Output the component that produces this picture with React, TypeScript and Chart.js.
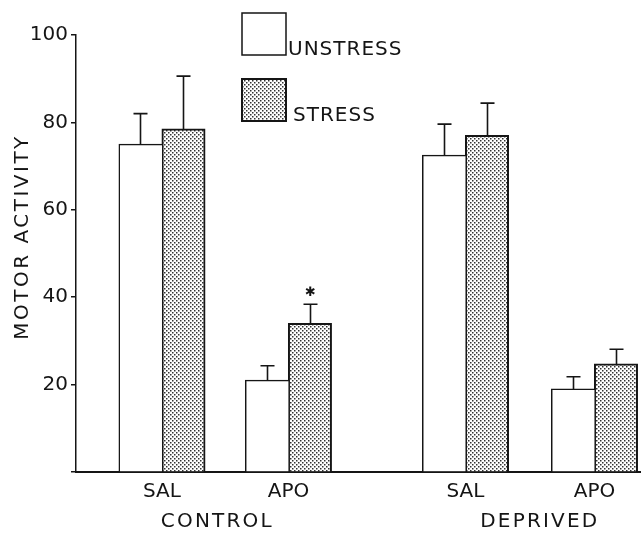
import React, { useEffect, useRef } from "react";
import { Chart, registerables } from "chart.js";

Chart.register(...registerables);

// ---- data ----
const conditions = ["SAL", "APO", "SAL", "APO"];
const groups = ["CONTROL", "DEPRIVED"];
const seriesNames = ["UNSTRESS", "STRESS"];
const unstressMean = [75, 21, 72.5, 19];
const unstressSem = [7, 3.3, 7.1, 2.8];
const stressMean = [78.5, 34, 77, 24.7];
const stressSem = [12.1, 4.4, 7.4, 3.4];
const stressSignificant = [false, true, false, false];
const yTicks = [20, 40, 60, 80, 100];
const yTitle = "MOTOR ACTIVITY";

// ---- layout (positions on the x scale, not data) ----
const X_POS = [1, 2, 3.4, 4.42];
const GROUP_LABEL_POS = [1.43, 3.98];
const X_MIN = 0.32;
const X_MAX = 4.78;

const FONT = "'DejaVu Sans', sans-serif";
const INK = "#151515";

function makePattern(): CanvasPattern | string {
  const tile = document.createElement("canvas");
  tile.width = 4;
  tile.height = 4;
  const c = tile.getContext("2d");
  if (!c) return "#ccc";
  c.fillStyle = "#ffffff";
  c.fillRect(0, 0, 4, 4);
  c.fillStyle = "#333333";
  c.fillRect(0, 0, 1.5, 1.5);
  c.fillRect(2, 2, 1.5, 1.5);
  const ctx = document.createElement("canvas").getContext("2d");
  return (ctx && ctx.createPattern(tile, "repeat")) || "#ccc";
}

export default function App() {
  const ref = useRef<HTMLCanvasElement | null>(null);

  useEffect(() => {
    if (!ref.current) return;
    const pattern = makePattern();
    const sems = [unstressSem, stressSem];

    const decorations = {
      id: "decorations",
      afterDatasetsDraw(chart: any) {
        const ctx = chart.ctx;
        const y = chart.scales.y;
        const x = chart.scales.x;
        ctx.save();
        ctx.strokeStyle = INK;
        ctx.fillStyle = INK;
        ctx.lineWidth = 1.6;
        // error bars (upper only)
        chart.data.datasets.forEach((ds: any, di: number) => {
          const meta = chart.getDatasetMeta(di);
          meta.data.forEach((el: any, i: number) => {
            const mean = ds.data[i].y;
            const top = y.getPixelForValue(mean + sems[di][i]);
            const bx = Math.round(el.x) + 0.5;
            ctx.beginPath();
            ctx.moveTo(bx, el.y);
            ctx.lineTo(bx, top);
            ctx.moveTo(bx - 7, top);
            ctx.lineTo(bx + 7, top);
            ctx.stroke();
            if (di === 1 && stressSignificant[i]) {
              ctx.font = `bold 13px ${FONT}`;
              ctx.textAlign = "center";
              ctx.textBaseline = "middle";
              ctx.fillText("\u2731", bx, top - 12);
            }
          });
        });
        // group labels
        ctx.font = `20px ${FONT}`;
        ctx.textAlign = "center";
        ctx.textBaseline = "alphabetic";
        ctx.letterSpacing = "2.2px";
        groups.forEach((g, i) => {
          ctx.fillText(g, x.getPixelForValue(GROUP_LABEL_POS[i]) + 1, 527);
        });
        // y title
        ctx.save();
        ctx.translate(28, 238);
        ctx.rotate(-Math.PI / 2);
        ctx.textAlign = "center";
        ctx.letterSpacing = "2.5px";
        ctx.fillText(yTitle, 1, 0);
        ctx.restore();
        // legend
        const fills = [
          { fill: "#ffffff", lw: 1.5 },
          { fill: pattern, lw: 2 },
        ];
        const boxes = [
          { x: 242, y: 13, w: 44, h: 42, tx: 288, ty: 55 },
          { x: 242, y: 79, w: 44, h: 42, tx: 293, ty: 121 },
        ];
        boxes.forEach((b, i) => {
          ctx.fillStyle = fills[i].fill;
          ctx.fillRect(b.x, b.y, b.w, b.h);
          ctx.lineWidth = fills[i].lw;
          ctx.strokeStyle = INK;
          ctx.strokeRect(b.x, b.y, b.w, b.h);
          ctx.fillStyle = INK;
          ctx.textAlign = "left";
          ctx.textBaseline = "alphabetic";
          ctx.font = `20px ${FONT}`;
          ctx.letterSpacing = "1px";
          ctx.fillText(seriesNames[i], b.tx, b.ty);
        });
        ctx.restore();
      },
    };

    const chart = new Chart(ref.current, {
      type: "bar",
      data: {
        datasets: [
          {
            label: seriesNames[0],
            data: unstressMean.map((v, i) => ({ x: X_POS[i], y: v })),
            backgroundColor: "#ffffff",
            borderColor: INK,
            borderWidth: { left: 1.5, top: 1.5, right: 0, bottom: 0 },
            inflateAmount: 0.5,
          },
          {
            label: seriesNames[1],
            data: stressMean.map((v, i) => ({ x: X_POS[i], y: v })),
            backgroundColor: pattern as any,
            borderColor: INK,
            borderWidth: 2,
            inflateAmount: 0.5,
          },
        ],
      },
      options: {
        animation: false,
        responsive: false,
        maintainAspectRatio: false,
        barThickness: 43,
        layout: { padding: { left: 0, top: 35, right: 2, bottom: 0 } },
        plugins: {
          legend: { display: false },
          tooltip: { enabled: false },
          title: { display: false },
        },
        scales: {
          x: {
            type: "linear",
            min: X_MIN,
            max: X_MAX,
            offset: false,
            afterFit(scale: any) {
              scale.height = 61;
            },
            afterBuildTicks(scale: any) {
              scale.ticks = X_POS.map((v) => ({ value: v }));
            },
            grid: { display: false, drawTicks: false },
            border: { display: true, color: INK, width: 2 },
            ticks: {
              autoSkip: false,
              maxRotation: 0,
              padding: 8,
              color: INK,
              font: { family: FONT, size: 20 },
              callback: (_v: any, i: number) => conditions[i],
            },
          },
          y: {
            min: 0,
            max: 100,
            afterFit(scale: any) {
              scale.width = 76;
            },
            afterBuildTicks(scale: any) {
              scale.ticks = [0, ...yTicks].map((v) => ({ value: v }));
            },
            grid: {
              drawOnChartArea: false,
              drawTicks: true,
              tickLength: 5,
              color: INK,
              lineWidth: 1.5,
            },
            border: { display: true, color: INK, width: 1.5 },
            ticks: {
              padding: 3,
              color: INK,
              font: { family: FONT, size: 20 },
              callback: (v: any) => (v === 0 ? "" : String(v)),
            },
          },
        },
      } as any,
      plugins: [decorations],
    });

    return () => chart.destroy();
  }, []);

  return (
    <div style={{ position: "absolute", left: 0, top: 0, width: 642, height: 533, background: "#fff" }}>
      <canvas ref={ref} width={642} height={533} style={{ display: "block" }} />
    </div>
  );
}
